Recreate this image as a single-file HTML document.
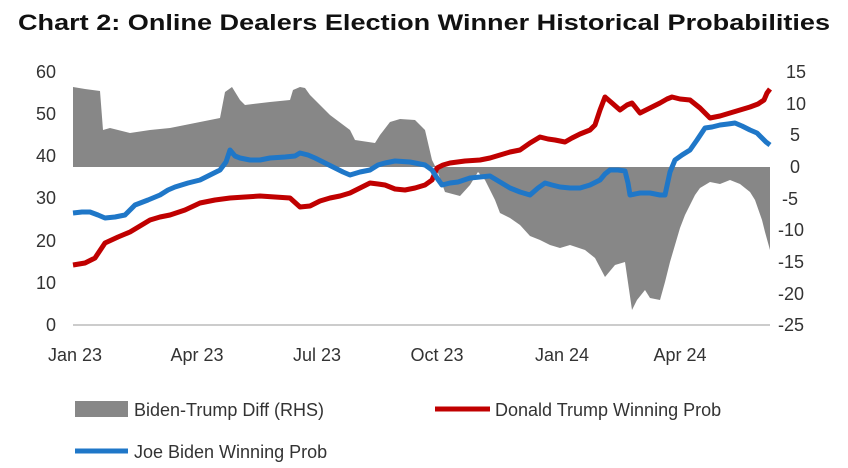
<!DOCTYPE html>
<html><head><meta charset="utf-8"><style>
body{margin:0;background:#fff;}
svg{display:block;font-family:"Liberation Sans",sans-serif;}
</style></head><body>
<svg width="848" height="468" viewBox="0 0 848 468">
<text x="424" y="30" text-anchor="middle" font-size="22" font-weight="bold" fill="#111" textLength="812" lengthAdjust="spacingAndGlyphs">Chart 2: Online Dealers Election Winner Historical Probabilities</text>
<g font-size="18" fill="#333" text-anchor="end">
<text x="56" y="78">60</text><text x="56" y="120">50</text><text x="56" y="162">40</text><text x="56" y="204">30</text><text x="56" y="247">20</text><text x="56" y="289">10</text><text x="56" y="331">0</text>
</g>
<g font-size="18" fill="#333">
<text x="786" y="78">15</text><text x="786" y="110">10</text><text x="790" y="141">5</text><text x="790" y="173">0</text><text x="782" y="205">-5</text><text x="778" y="236">-10</text><text x="778" y="268">-15</text><text x="778" y="300">-20</text><text x="778" y="331">-25</text>
</g>
<g font-size="18" fill="#333" text-anchor="middle">
<text x="75" y="361">Jan 23</text><text x="197" y="361">Apr 23</text><text x="317" y="361">Jul 23</text><text x="437" y="361">Oct 23</text><text x="562" y="361">Jan 24</text><text x="680" y="361">Apr 24</text>
</g>
<line x1="73" y1="325" x2="770" y2="325" stroke="#ccc" stroke-width="2"/>
<polygon fill="#878787" points="73,167 73,87 85,89 100,91 103,130 110,128 130,133 150,130 170,128 200,122 220,118 225,92 232,87 240,100 245,105 270,102 290,100 293,90 300,87 305,88 310,95 330,115 350,130 355,140 375,143 380,135 390,122 400,119 415,120 425,130 432,160 437,170 445,192 460,196 470,185 478,172 485,180 495,200 500,213 510,218 520,225 530,236 540,240 550,245 560,248 570,245 585,250 595,258 605,277 615,265 625,262 632,310 637,300 645,290 650,298 660,300 665,282 670,262 675,245 680,228 685,215 690,205 695,195 700,188 710,182 720,184 730,180 740,184 750,192 755,200 762,220 765,232 770,250 770,167"/>
<polyline fill="none" stroke="#c00000" stroke-width="5" stroke-linejoin="round" points="73,265 85,263 95,258 105,243 118,237 130,232 140,226 150,220 160,217 170,215 185,210 200,203 215,200 230,198 245,197 260,196 275,197 290,198 300,207 310,206 320,201 330,198 340,196 350,193 360,188 370,183 378,184 385,185 395,189 405,190 415,188 425,185 432,180 437,168 443,165 450,163 465,161 480,160 490,158 500,155 510,152 520,150 530,143 540,137 548,139 555,140 565,142 572,138 580,134 590,130 595,125 600,110 605,97 612,103 620,110 627,105 632,103 640,113 650,108 660,103 667,99 672,97 680,99 690,100 700,108 710,118 720,116 730,113 740,110 750,107 758,104 764,100 767,93 770,89"/>
<polyline fill="none" stroke="#1f77c8" stroke-width="5" stroke-linejoin="round" points="73,213 82,212 90,212 98,215 105,218 115,217 125,215 130,210 135,205 148,200 160,195 168,190 175,187 188,183 200,180 210,175 220,170 226,162 230,150 235,156 240,158 250,160 260,160 270,158 285,157 295,156 300,153 308,155 315,158 325,163 335,168 343,172 350,175 360,172 370,170 378,165 385,163 395,161 410,162 425,165 432,170 437,178 442,185 450,183 458,182 470,178 480,177 490,176 500,182 510,188 520,192 530,195 538,188 545,183 552,185 560,187 570,188 580,188 590,185 600,180 605,174 610,170 618,170 625,171 628,183 630,195 640,193 650,193 660,195 665,195 670,172 675,160 682,155 690,150 697,140 705,128 712,127 720,125 728,124 735,123 742,126 750,130 757,133 762,138 766,142 770,145"/>
<rect x="75" y="401" width="53" height="16" fill="#878787"/>
<text x="134" y="416" font-size="18" fill="#333">Biden-Trump Diff (RHS)</text>
<line x1="435" y1="409" x2="490" y2="409" stroke="#c00000" stroke-width="5"/>
<text x="495" y="416" font-size="18" fill="#333">Donald Trump Winning Prob</text>
<line x1="75" y1="451" x2="128" y2="451" stroke="#1f77c8" stroke-width="5"/>
<text x="134" y="458" font-size="18" fill="#333">Joe Biden Winning Prob</text>
</svg>
</body></html>
